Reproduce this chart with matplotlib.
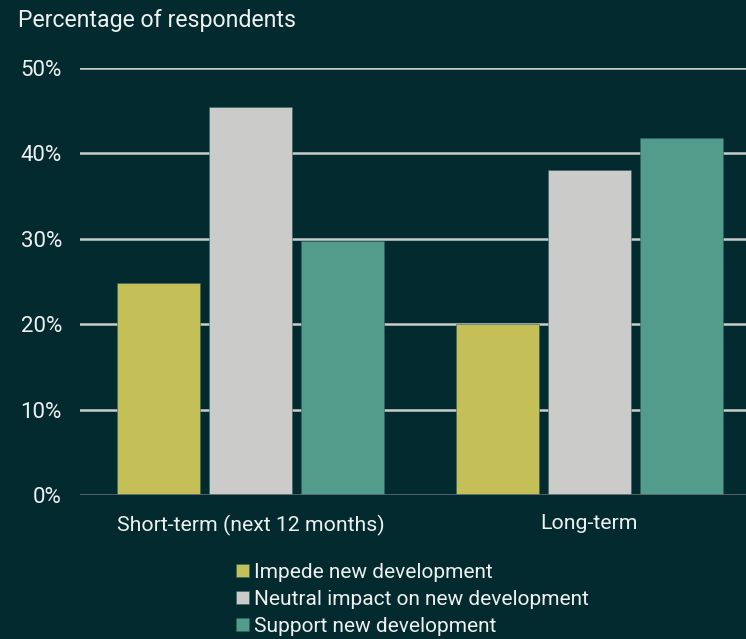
import matplotlib.pyplot as plt
import numpy as np

plt.rcParams['font.family'] = ['Roboto', 'DejaVu Sans']

categories = ['Short-term (next 12 months)', 'Long-term']
series = ['Impede new development', 'Neutral impact on new development', 'Support new development']
impede = [24.8, 20.0]
neutral = [45.4, 38.1]
support = [29.7, 41.8]
yticks = [0, 10, 20, 30, 40, 50]
ytick_labels = ['0%', '10%', '20%', '30%', '40%', '50%']

bg = '#032a2f'
text_color = '#eef1ef'
colors = ['#c4c057', '#cbccc9', '#539c8c']

fig = plt.figure(figsize=(7.46, 6.39), dpi=100, facecolor=bg)
ax = fig.add_axes([80 / 746, 144 / 639, 666 / 746, 427 / 639], facecolor=bg)

x = np.arange(len(categories))
width = 0.245
step = 0.271
for i, (vals, name) in enumerate(zip([impede, neutral, support], series)):
    ax.bar(x + (i - 1) * step, vals, width, color=colors[i], label=name,
           edgecolor='#2f6360', linewidth=0.4, zorder=3)

ax.set_ylim(0, 50)
ax.set_xlim(-0.503, 1.462)
ax.set_yticks(yticks)
ax.set_yticklabels(ytick_labels)
ax.set_xticks(x)
ax.set_xticklabels(categories)
ax.tick_params(axis='both', length=0, colors=text_color)
ax.tick_params(axis='y', pad=13, labelsize=16)
ax.tick_params(axis='x', pad=14, labelsize=15.3)
for lbl in ax.get_yticklabels():
    lbl.set_horizontalalignment('right')

for y in yticks[1:]:
    ax.axhline(y, color='#c9cdcb', linewidth=1.8, zorder=1)
ax.axhline(0, color='#56686a', linewidth=2, zorder=4)

for s in ax.spines.values():
    s.set_visible(False)

fig.text(18 / 746, 1 - 20 / 639, 'Percentage of respondents', color=text_color,
         fontsize=16.7, va='center', ha='left')

fig.legend(loc='upper left', bbox_to_anchor=(236 / 746, 1 - 563 / 639),
           frameon=False, fontsize=15, labelcolor=text_color,
           handlelength=0.62, handleheight=0.62, handletextpad=0.25,
           labelspacing=0.38, borderpad=0, borderaxespad=0)

fig.savefig('out.png', dpi=100, facecolor=bg)
